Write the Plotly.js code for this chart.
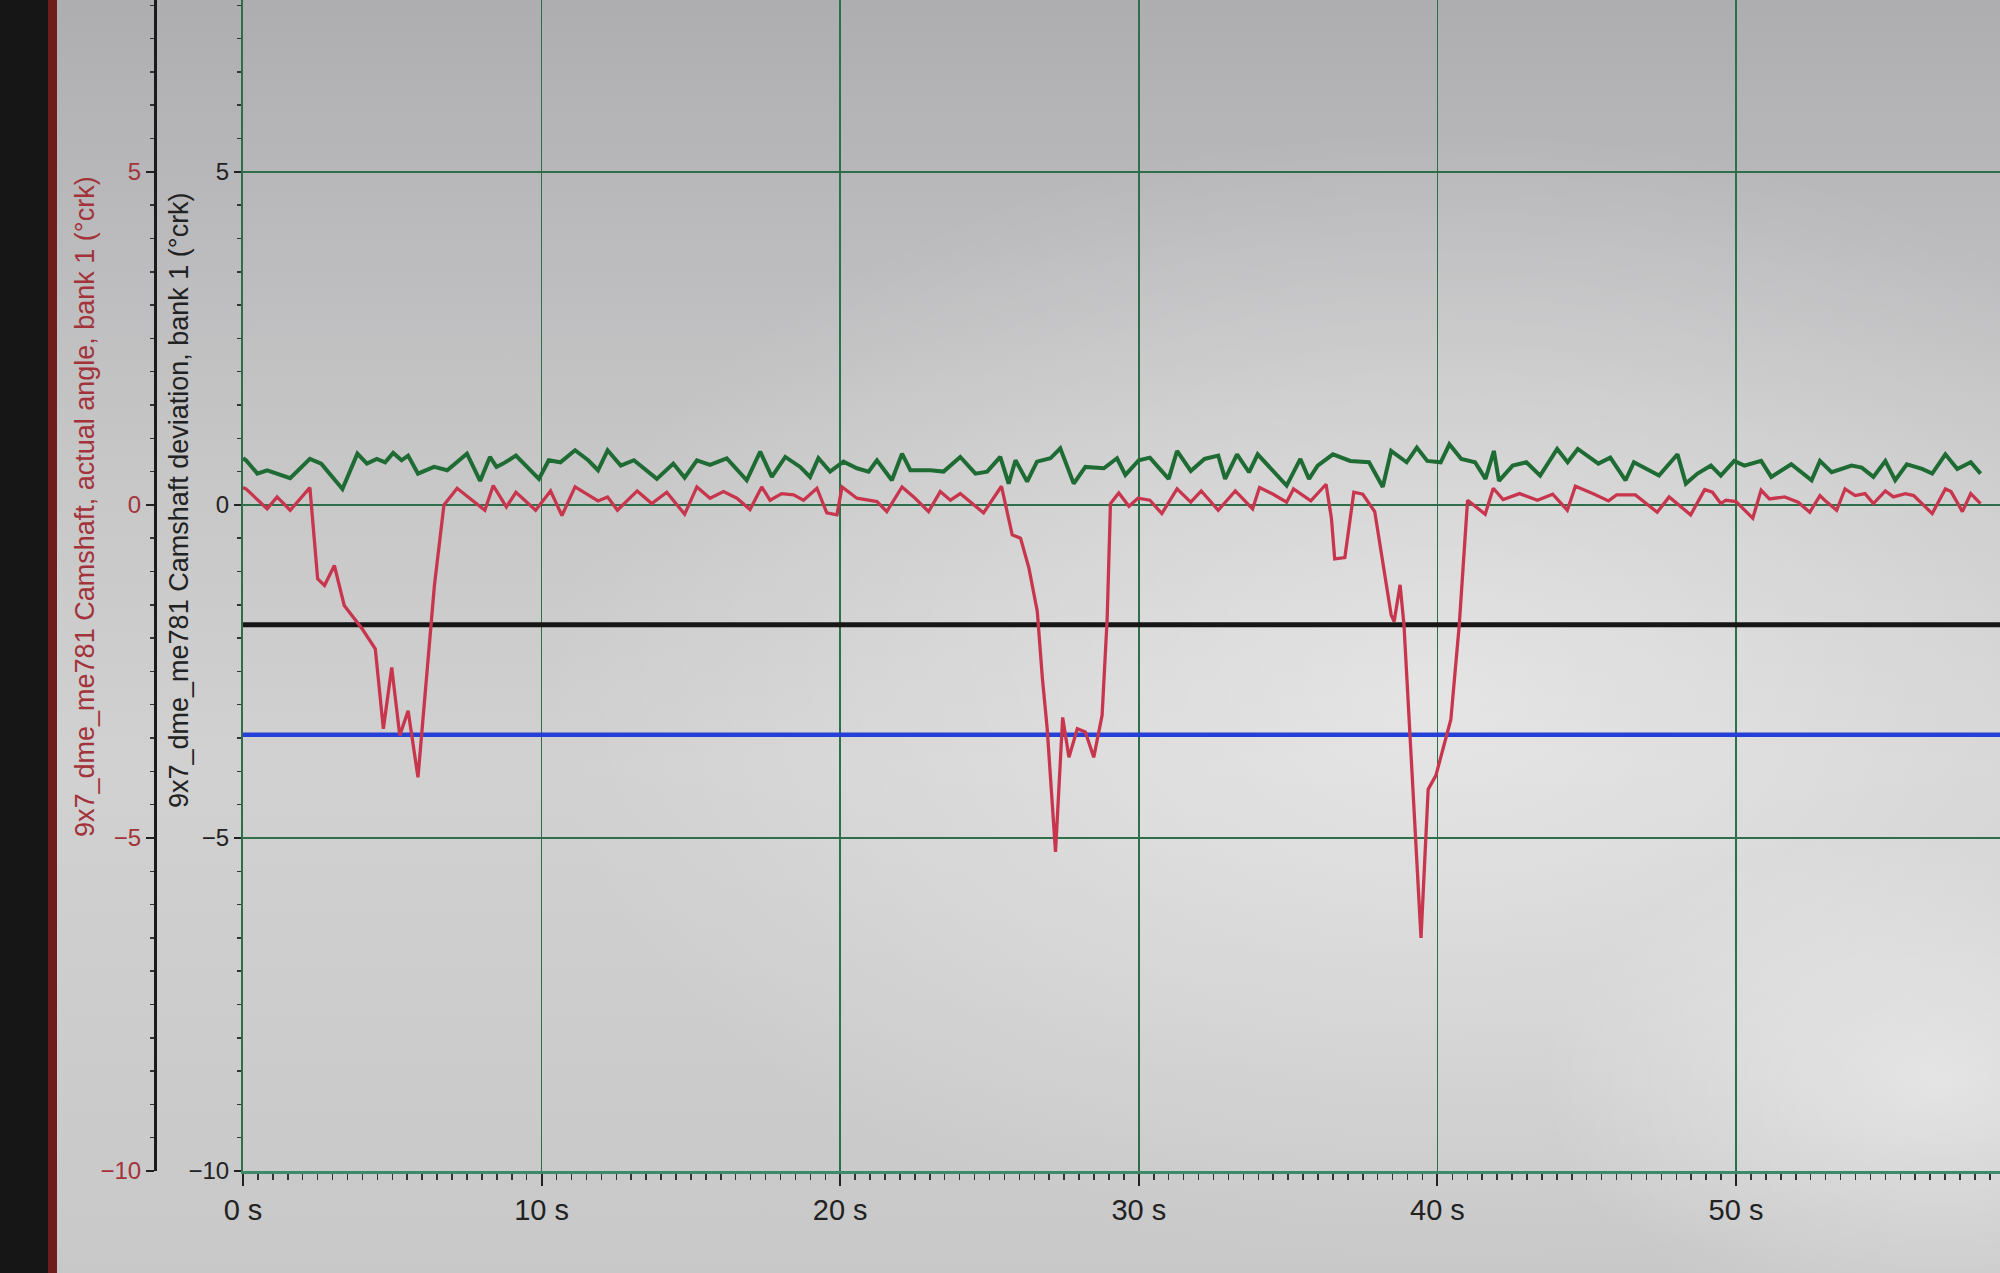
<!DOCTYPE html>
<html>
<head>
<meta charset="utf-8">
<script src="https://cdn.plot.ly/plotly-3.0.1.min.js"></script>
<style>
  html, body { margin: 0; padding: 0; background: #c4c4c4; }
  #chart { width: 2000px; height: 1273px; }
</style>
</head>
<body>
<div id="chart"></div>
<script>
// ---- Data ----
// Camshaft actual angle, bank 1 (red trace, outer axis)
const redTime = [0.0, 0.1, 0.81, 1.14, 1.58, 2.24, 2.5, 2.73, 3.06, 3.39, 3.99, 4.43, 4.70, 4.98, 5.25, 5.53, 5.86, 6.08, 6.41, 6.73,
  7.17, 8.10, 8.38, 8.82, 9.14, 9.80, 10.30, 10.68, 11.12, 11.89, 12.21, 12.54, 13.20, 13.69, 14.19, 14.79,
  15.2, 15.64, 16.09, 16.54, 16.98, 17.37, 17.65, 18.04, 18.44, 18.77, 19.22, 19.55, 19.89, 20.06, 20.56, 21.23, 21.56,
  22.07, 22.46, 22.96, 23.35, 23.69, 24.02, 24.8, 25.4, 25.76, 26.04, 26.32, 26.6, 26.77, 26.93, 27.21, 27.45, 27.66,
  27.94, 28.21, 28.49, 28.77, 28.94, 29.05, 29.33, 29.67, 29.97, 30.37, 30.77, 31.28, 31.74, 32.09, 32.66, 33.23, 33.81,
  34.04, 34.5, 34.95, 35.18, 35.76, 36.27, 36.45, 36.56, 36.9, 37.2, 37.5, 37.9, 38.45, 38.55, 38.75, 38.88, 39.45,
  39.69, 39.95, 40.45, 40.73, 41.01, 41.6, 41.87, 42.2, 42.75, 43.35, 43.86, 44.35, 44.62, 45.2, 45.73, 46.0, 46.63,
  47.36, 47.76, 48.48, 48.95, 49.21, 49.49, 49.66, 50.0, 50.56, 50.84, 51.12, 51.63, 52.08, 52.47, 52.81, 52.97, 53.37,
  53.65, 53.99, 54.32, 54.6, 55.0, 55.27, 55.67, 55.95, 56.57, 57.01, 57.2, 57.58, 57.86, 58.19];
const redAngle = [0.26, 0.24, -0.06, 0.12, -0.08, 0.26, -1.11, -1.21, -0.91, -1.51, -1.86, -2.16, -3.36, -2.44, -3.46, -3.09, -4.09, -2.96, -1.21, 0.0,
  0.25, -0.08, 0.29, -0.03, 0.19, -0.08, 0.21, -0.16, 0.27, 0.06, 0.12, -0.08, 0.21, 0.02, 0.19, -0.14,
  0.27, 0.10, 0.20, 0.10, -0.07, 0.27, 0.07, 0.17, 0.15, 0.07, 0.25, -0.12, -0.15, 0.27, 0.10, 0.05, -0.10,
  0.27, 0.12, -0.10, 0.20, 0.07, 0.17, -0.12, 0.28, -0.45, -0.50, -0.95, -1.6, -2.6, -3.35, -5.21, -3.19, -3.79,
  -3.36, -3.41, -3.79, -3.16, -1.71, 0.02, 0.18, -0.02, 0.10, 0.07, -0.13, 0.24, 0.04, 0.21, -0.08, 0.21, -0.06,
  0.26, 0.16, 0.04, 0.24, 0.06, 0.31, -0.2, -0.81, -0.79, 0.19, 0.16, -0.10, -1.65, -1.75, -1.2, -1.8, -6.5,
  -4.27, -4.06, -3.22, -1.81, 0.07, -0.14, 0.25, 0.08, 0.17, 0.07, 0.16, -0.08, 0.28, 0.17, 0.06, 0.15, 0.15,
  -0.11, 0.12, -0.15, 0.23, 0.19, 0.02, 0.07, 0.05, -0.2, 0.22, 0.09, 0.12, 0.04, -0.11, 0.14, 0.07, -0.08,
  0.24, 0.14, 0.17, 0.02, 0.21, 0.12, 0.17, 0.14, -0.13, 0.24, 0.2, -0.1, 0.17, 0.02];

// Camshaft deviation, bank 1 (green trace, inner axis)
const greenTime = [0.0, 0.1, 0.48, 0.81, 1.58, 2.24, 2.62, 3.33, 3.83, 4.15, 4.48, 4.76, 5.03, 5.31, 5.53, 5.86, 6.40, 6.84, 7.50, 7.94,
  8.27, 8.49, 8.71, 9.14, 9.91, 10.24, 10.63, 11.12, 11.56, 11.89, 12.21, 12.65, 13.09, 13.86, 14.41, 14.79, 15.2,
  15.64, 16.2, 16.87, 17.32, 17.71, 18.16, 18.66, 18.99, 19.27, 19.66, 20.11, 20.56, 20.95, 21.23, 21.73, 22.07, 22.35,
  23.02, 23.46, 24.02, 24.53, 24.92, 25.36, 25.64, 25.87, 26.26, 26.59, 27.04, 27.37, 27.82, 28.21, 28.83, 29.27, 29.55,
  30.0, 30.37, 31.0, 31.28, 31.74, 32.2, 32.66, 32.89, 33.29, 33.69, 33.98, 34.95, 35.41, 35.7, 35.99, 36.5, 37.08,
  37.71, 38.17, 38.45, 38.97, 39.31, 39.66, 40.11, 40.4, 40.8, 41.26, 41.61, 41.89, 42.06, 42.52, 42.98, 43.44, 44.01,
  44.36, 44.7, 45.39, 45.79, 46.3, 46.58, 47.42, 48.04, 48.32, 48.71, 49.16, 49.49, 49.94, 50.28, 50.84, 51.18, 51.85,
  52.53, 52.81, 53.2, 53.87, 54.21, 54.6, 55.0, 55.33, 55.72, 56.23, 56.57, 57.01, 57.41, 57.86, 58.19];
const greenDev = [0.70, 0.67, 0.47, 0.52, 0.40, 0.69, 0.62, 0.24, 0.77, 0.62, 0.69, 0.64, 0.78, 0.67, 0.74, 0.47, 0.57, 0.52, 0.77, 0.36,
  0.72, 0.57, 0.62, 0.74, 0.39, 0.67, 0.64, 0.82, 0.67, 0.52, 0.82, 0.59, 0.67, 0.39, 0.62, 0.41, 0.67,
  0.60, 0.70, 0.37, 0.80, 0.42, 0.72, 0.57, 0.42, 0.70, 0.50, 0.65, 0.55, 0.50, 0.67, 0.37, 0.77, 0.52,
  0.52, 0.50, 0.72, 0.47, 0.50, 0.72, 0.32, 0.67, 0.35, 0.65, 0.70, 0.85, 0.32, 0.57, 0.55, 0.70, 0.45,
  0.67, 0.71, 0.39, 0.81, 0.51, 0.69, 0.74, 0.39, 0.76, 0.49, 0.76, 0.29, 0.69, 0.39, 0.59, 0.76, 0.66,
  0.64, 0.27, 0.81, 0.64, 0.86, 0.66, 0.64, 0.91, 0.69, 0.64, 0.39, 0.81, 0.36, 0.59, 0.64, 0.44, 0.84,
  0.64, 0.84, 0.62, 0.71, 0.37, 0.64, 0.44, 0.76, 0.32, 0.47, 0.59, 0.44, 0.66, 0.59, 0.66, 0.42, 0.61,
  0.37, 0.66, 0.49, 0.59, 0.56, 0.42, 0.66, 0.37, 0.61, 0.54, 0.47, 0.76, 0.54, 0.64, 0.47];

// Constant reference lines (black and blue)
const limitTime = [0, 58.84];
const blackLimit = [-1.8, -1.8];
const blueLimit = [-3.45, -3.45];

// Axis text
const xTickSuffix = ' s';
const outerTitle = '9x7_dme_me781 Camshaft, actual angle, bank 1 (°crk)';
const innerTitle = '9x7_dme_me781 Camshaft deviation, bank 1 (°crk)';

// ---- Background (photo-like lighting) ----
const bgSvg =
  "<svg xmlns='http://www.w3.org/2000/svg' width='2000' height='1273'>" +
  "<defs>" +
  "<linearGradient id='v' x1='0' y1='0' x2='0' y2='1'>" +
  "<stop offset='0' stop-color='#aeaeb1'/><stop offset='0.35' stop-color='#c6c6c7'/>" +
  "<stop offset='0.6' stop-color='#d1d1d1'/><stop offset='1' stop-color='#c8c8c8'/></linearGradient>" +
  "<radialGradient id='r' cx='0.72' cy='0.55' r='0.45'>" +
  "<stop offset='0' stop-color='#ffffff' stop-opacity='0.45'/><stop offset='1' stop-color='#ffffff' stop-opacity='0'/></radialGradient>" +
  "<radialGradient id='r2' cx='0.97' cy='0.85' r='0.2'>" +
  "<stop offset='0' stop-color='#ffffff' stop-opacity='0.45'/><stop offset='1' stop-color='#ffffff' stop-opacity='0'/></radialGradient>" +
  "</defs>" +
  "<rect width='2000' height='1273' fill='url(#v)'/>" +
  "<rect width='2000' height='1273' fill='url(#r)'/>" +
  "<rect width='2000' height='1273' fill='url(#r2)'/>" +
  "<rect x='0' y='0' width='50' height='1273' fill='#161616'/>" +
  "<rect x='48' y='0' width='9' height='1273' fill='#6e1c1c'/>" +
  "</svg>";
const bgUri = 'data:image/svg+xml;charset=utf-8,' + encodeURIComponent(bgSvg);

// ---- Geometry ----
const W = 2000, H = 1273;
const mL = 155, mB = 102;
const plotW = W - mL, plotH = H - mB;
const innerAxisPx = 243;
const gridColor = '#2f6e4a';

const traces = [
  { x: limitTime, y: blackLimit, type: 'scatter', mode: 'lines', yaxis: 'y',
    line: { color: '#161616', width: 5 }, hoverinfo: 'skip' },
  { x: limitTime, y: blueLimit, type: 'scatter', mode: 'lines', yaxis: 'y',
    line: { color: '#2540d6', width: 4.5 }, hoverinfo: 'skip' },
  { x: greenTime, y: greenDev, type: 'scatter', mode: 'lines', yaxis: 'y',
    line: { color: '#1f6b34', width: 4 } },
  { x: redTime, y: redAngle, type: 'scatter', mode: 'lines', yaxis: 'y2',
    line: { color: '#c8364e', width: 3.3 } }
];

const yRange = [-10, 7.58];

const layout = {
  width: W, height: H,
  margin: { l: mL, r: 0, t: 0, b: mB, pad: 0 },
  paper_bgcolor: 'rgba(0,0,0,0)',
  plot_bgcolor: 'rgba(0,0,0,0)',
  showlegend: false,
  font: { family: 'Liberation Sans, Arial, sans-serif', color: '#222' },
  xaxis: {
    domain: [(innerAxisPx - mL) / plotW, 1],
    range: [0, 58.84],
    tick0: 0, dtick: 10,
    ticksuffix: xTickSuffix,
    showgrid: true, gridcolor: gridColor, gridwidth: 1.6,
    zeroline: false,
    showline: true, linecolor: '#3d8a6b', linewidth: 2.5,
    ticks: 'outside', ticklen: 12, tickwidth: 2, tickcolor: '#222',
    minor: { dtick: 0.5, ticks: 'outside', ticklen: 6, tickwidth: 1.5, tickcolor: '#333', showgrid: false },
    tickfont: { size: 29, color: '#222' },
    anchor: 'y'
  },
  yaxis: {
    range: yRange,
    tick0: 0, dtick: 5,
    showgrid: true, gridcolor: gridColor, gridwidth: 1.6,
    zeroline: false,
    showline: true, linecolor: '#2f6e4a', linewidth: 2,
    ticks: 'outside', ticklen: 7, tickwidth: 2, tickcolor: '#222',
    minor: { dtick: 0.5, ticks: 'outside', ticklen: 4, tickwidth: 1.5, tickcolor: '#333', showgrid: false },
    tickfont: { size: 24, color: '#222' },
    anchor: 'x'
  },
  yaxis2: {
    range: yRange,
    overlaying: 'y', anchor: 'free', position: 0, side: 'left',
    tick0: 0, dtick: 5,
    showgrid: false, zeroline: false,
    showline: true, linecolor: '#1a1a1a', linewidth: 2.5,
    ticks: 'outside', ticklen: 8, tickwidth: 2, tickcolor: '#222',
    minor: { dtick: 0.5, ticks: 'outside', ticklen: 4, tickwidth: 1.5, tickcolor: '#333', showgrid: false },
    tickfont: { size: 24, color: '#a3333a' }
  },
  annotations: [
    { text: outerTitle, xref: 'paper', yref: 'paper',
      x: (85 - mL) / plotW, y: 1 - 507 / plotH, xanchor: 'center', yanchor: 'middle',
      textangle: -90, showarrow: false, font: { size: 27, color: '#a3333a' } },
    { text: innerTitle, xref: 'paper', yref: 'paper',
      x: (179 - mL) / plotW, y: 1 - 500 / plotH, xanchor: 'center', yanchor: 'middle',
      textangle: -90, showarrow: false, font: { size: 27, color: '#222' } }
  ],
  images: [
    { source: bgUri, xref: 'paper', yref: 'paper',
      x: -mL / plotW, y: 1, sizex: W / plotW, sizey: H / plotH,
      xanchor: 'left', yanchor: 'top', sizing: 'stretch', layer: 'below' }
  ]
};

Plotly.newPlot('chart', traces, layout, { displayModeBar: false, staticPlot: true });
</script>
</body>
</html>
